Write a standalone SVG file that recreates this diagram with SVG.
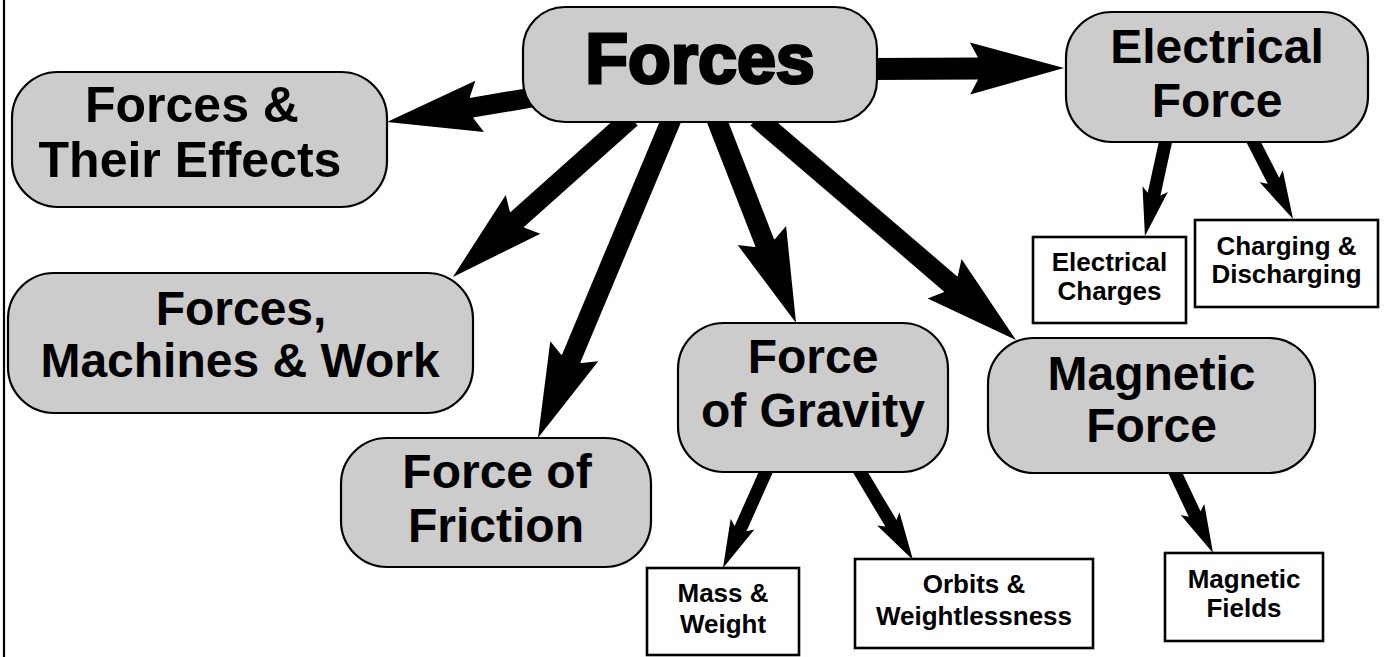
<svg xmlns="http://www.w3.org/2000/svg" width="1391" height="657" viewBox="0 0 1391 657">
<style>
.big{fill:#cccccc;stroke:#000;stroke-width:2.2}
.small{fill:#fff;stroke:#000;stroke-width:2.6}
text{font-family:"Liberation Sans",Arial,Helvetica,sans-serif;font-weight:bold;text-anchor:middle;fill:#000}
.t48{font-size:48px}
.t50{font-size:50px}
.t26{font-size:26px}
.title{font-size:70px;stroke:#000;stroke-width:3}
.c{stroke:#000;fill:none;stroke-linecap:butt}
.w20{stroke-width:20;marker-end:url(#bigHead)}
.w22{stroke-width:22;marker-end:url(#bigHead)}
.w13{stroke-width:13;marker-end:url(#smallHead)}
</style>
<defs>
<marker id="bigHead" markerUnits="userSpaceOnUse" orient="auto" refX="0" refY="0" markerWidth="100" markerHeight="60" overflow="visible">
<path d="M -2,-11 L -10,-26 L 84,0 L -10,26 L -2,11 Z" fill="#000"/>
</marker>
<marker id="smallHead" markerUnits="userSpaceOnUse" orient="auto" refX="0" refY="0" markerWidth="60" markerHeight="30" overflow="visible">
<path d="M -1,-6.5 L -6,-13 L 42,0 L -6,13 L -1,6.5 Z" fill="#000"/>
</marker>
</defs>
<rect width="1391" height="657" fill="#fff"/>
<line x1="4" y1="0" x2="4" y2="657" stroke="#000" stroke-width="2.2"/>
<g id="connectors">
<line class="c w22" x1="870" y1="69" x2="980" y2="68.4"/>
<line class="c w20" x1="535" y1="97" x2="469.8" y2="108"/>
<line class="c w20" x1="631" y1="118" x2="515.6" y2="221"/>
<line class="c w20" x1="672" y1="118" x2="570.4" y2="360.5"/>
<line class="c w20" x1="716" y1="118" x2="765.5" y2="244.8"/>
<line class="c w20" x1="757" y1="118" x2="952.2" y2="285.3"/>
<line class="c w13" x1="1167" y1="135" x2="1153.9" y2="195"/>
<line class="c w13" x1="1250" y1="135" x2="1273.9" y2="181.6"/>
<line class="c w13" x1="769" y1="465" x2="740.1" y2="529.6"/>
<line class="c w13" x1="856" y1="465" x2="891.4" y2="524"/>
<line class="c w13" x1="1172" y1="466" x2="1195.1" y2="515"/>
</g>
<g id="forces">
<rect class="big" x="523" y="7" width="354" height="115" rx="42"/>
<text class="title" x="700" y="83">Forces</text>
</g>
<g id="effects">
<rect class="big" x="12" y="72" width="375" height="135" rx="46"/>
<text class="t50" x="192" y="122">Forces &amp;</text>
<text class="t50" x="190" y="177">Their Effects</text>
</g>
<g id="machines">
<rect class="big" x="8" y="273" width="465" height="140" rx="46"/>
<text class="t48" x="241" y="325">Forces,</text>
<text class="t48" x="240" y="377">Machines &amp; Work</text>
</g>
<g id="friction">
<rect class="big" x="341" y="438" width="310" height="129" rx="46"/>
<text class="t48" x="497" y="488">Force of</text>
<text class="t48" x="496" y="542">Friction</text>
</g>
<g id="gravity">
<rect class="big" x="678" y="323" width="270" height="149" rx="46"/>
<text class="t48" x="813" y="373">Force</text>
<text class="t48" x="813" y="427">of Gravity</text>
</g>
<g id="magnetic">
<rect class="big" x="988" y="338" width="327" height="135" rx="46"/>
<text class="t48" x="1151.5" y="390">Magnetic</text>
<text class="t48" x="1151.5" y="442">Force</text>
</g>
<g id="electrical">
<rect class="big" x="1066" y="12" width="302" height="130" rx="46"/>
<text class="t48" x="1217" y="63">Electrical</text>
<text class="t48" x="1217" y="117">Force</text>
</g>
<g id="charges">
<rect class="small" x="1033" y="237" width="153" height="86"/>
<text class="t26" x="1109.5" y="271">Electrical</text>
<text class="t26" x="1109.5" y="300">Charges</text>
</g>
<g id="charging">
<rect class="small" x="1195" y="220" width="183" height="87"/>
<text class="t26" x="1286.5" y="255">Charging &amp;</text>
<text class="t26" x="1286.5" y="283">Discharging</text>
</g>
<g id="mass">
<rect class="small" x="647" y="568" width="152" height="87"/>
<text class="t26" x="723" y="602">Mass &amp;</text>
<text class="t26" x="723" y="633">Weight</text>
</g>
<g id="orbits">
<rect class="small" x="855" y="559" width="238" height="89"/>
<text class="t26" x="974" y="593">Orbits &amp;</text>
<text class="t26" x="974" y="625">Weightlessness</text>
</g>
<g id="fields">
<rect class="small" x="1165" y="553" width="158" height="88"/>
<text class="t26" x="1244" y="588">Magnetic</text>
<text class="t26" x="1244" y="617">Fields</text>
</g>
</svg>
